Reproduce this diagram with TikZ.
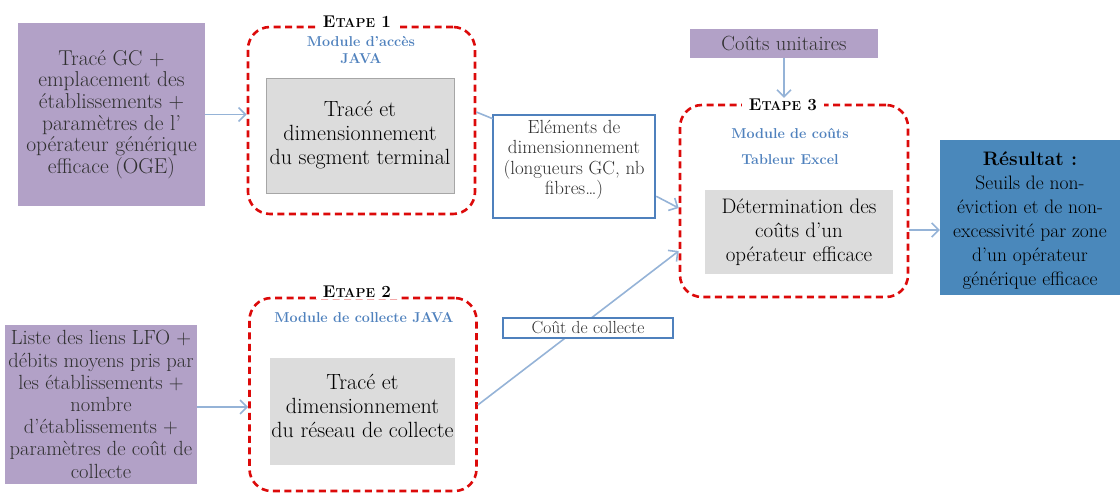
\documentclass[tikz,border=0pt]{standalone}
\usepackage{fontspec}
\usetikzlibrary{arrows.meta,calc}
\definecolor{lav}{HTML}{B2A1C7}
\definecolor{bluetxt}{HTML}{4F81BD}
\definecolor{arrowblue}{HTML}{95B3D7}
\definecolor{dashred}{HTML}{DC0A0A}
\definecolor{grayfill}{HTML}{DCDCDC}
\definecolor{grayline}{HTML}{A6A6A6}
\definecolor{resfill}{HTML}{4A88BB}
\definecolor{txt}{HTML}{303030}
\newcommand{\etp}[1]{\bfseries\fontsize{17}{17}\selectfont E\fontsize{13}{13}\selectfont TAPE\fontsize{17}{17}\selectfont\ #1}
\begin{document}
\begin{tikzpicture}[x=1pt,y=-1pt,
  inbox/.style={fill=lav, text=txt, align=center, inner sep=0},
  stagebox/.style={draw=dashred, line width=2.6pt, dash pattern=on 7pt off 4.5pt, rounded corners=22pt, inner sep=0},
  graybox/.style={fill=grayfill, align=center, inner sep=0, text=black, font=\fontsize{22}{24}\selectfont},
  etaplab/.style={fill=white, inner xsep=7pt, inner ysep=1pt, text=black},
  modlab/.style={text=bluetxt, font=\bfseries\fontsize{14.3}{17}\selectfont, align=center, inner sep=0},
  bluebox/.style={draw=bluetxt, line width=2.6pt, fill=white, inner sep=0, align=center},
  conn/.style={draw=arrowblue, line width=1.6pt},
  arr/.style={conn, -{Straight Barb[length=7pt,width=14pt,line width=1.6pt]}}
]
\useasboundingbox (0,0) rectangle (1120,493);

% inputs
\node[inbox, minimum width=187pt, minimum height=183pt, font=\fontsize{21.5}{21.7}\selectfont] (p1) at (111.5,114.5)
  {Tracé GC +\\emplacement des\\établissements +\\paramètres de l’\\opérateur générique\\efficace (OGE)};
\node[inbox, minimum width=192pt, minimum height=159pt, font=\fontsize{20.5}{22.2}\selectfont] (p2) at (101,404.5)
  {Liste des liens LFO +\\débits moyens pris par\\les établissements +\\nombre\\d’établissements +\\paramètres de coût de\\collecte};
\node[inbox, minimum width=188pt, minimum height=29pt, font=\fontsize{20.5}{22}\selectfont] (cu) at (784,43.5) {Coûts unitaires};

% stage 1
\node[stagebox, minimum width=227pt, minimum height=187pt] (e1) at (361.5,120.5) {};
\node[etaplab] (e1l) at (357,22) {\etp{1}};
\node[modlab] (e1m) at (361,50) {Module d’accès\\JAVA};
\node[graybox, draw=grayline, line width=0.8pt, minimum width=188pt, minimum height=115pt] (g1) at (360,135.5)
  {Tracé et\\dimensionnement\\du segment terminal};

% stage 2
\node[stagebox, minimum width=227pt, minimum height=193pt] (e2) at (363,394.5) {};
\node[etaplab] (e2l) at (357,292) {\etp{2}};
\node[modlab] (e2m) at (364,318) {Module de collecte JAVA};
\node[graybox, minimum width=185pt, minimum height=107pt] (g2) at (362.5,411.5) {};
\node[align=center, inner sep=0, font=\fontsize{22}{24}\selectfont] (g2t) at (362.5,406) {Tracé et\\dimensionnement\\du réseau de collecte};

% stage 3
\node[stagebox, minimum width=228pt, minimum height=192pt] (e3) at (794,201) {};
\node[etaplab] (e3l) at (783,105) {\etp{3}};
\node[modlab] (e3m) at (790,133) {Module de coûts};
\node[modlab] (e3t) at (790,160) {Tableur Excel};
\node[graybox, minimum width=188pt, minimum height=84pt, font=\fontsize{21}{24}\selectfont] (g3) at (799,232)
  {Détermination des\\coûts d’un\\opérateur efficace};

% intermediate boxes
\node[bluebox, minimum width=162pt, minimum height=103pt] (el) at (574,166.5) {};
\node[align=center, inner sep=0, font=\fontsize{19}{20.5}\selectfont, text=txt] (elt) at (574,160)
  {Eléments de\\dimensionnement\\(longueurs GC, nb\\fibres…)};

% result
\node[fill=resfill, minimum width=180pt, minimum height=155pt, inner sep=0] (res) at (1030,217.5) {};
\node[align=center, inner sep=0, font=\fontsize{19.5}{24}\selectfont, text=black] (rest) at (1030,221)
  {\textbf{Résultat :}\\Seuils de non-\\éviction et de non-\\excessivité par zone\\d’un opérateur\\générique efficace};

% connectors
\draw[arr] (p1.east) -- (p1.east -| e1.west);
\draw[arr] (p2.east |- 0,407) -- (e2.west |- 0,407);
\draw[conn] (e1.east |- 0,112) -- ($(el.north west)+(1,5)$);
\draw[arr] ($(el.south east)+(0,-23)$) -- ($(e3.west)+(0,7)$);
\draw[arr] (cu.south) -- (cu.south |- e3l.north);
\draw[arr] (e3.east |- 0,230) -- (res.west |- 0,230);
\draw[arr] (e2.east |- 0,405) -- ($(e3.west)+(0,50)$);

\node[bluebox, line width=2.2pt, minimum width=170pt, minimum height=20pt, font=\fontsize{17.5}{18}\selectfont, text=txt] (cc) at (588,328) {Coût de collecte};
\end{tikzpicture}
\end{document}
